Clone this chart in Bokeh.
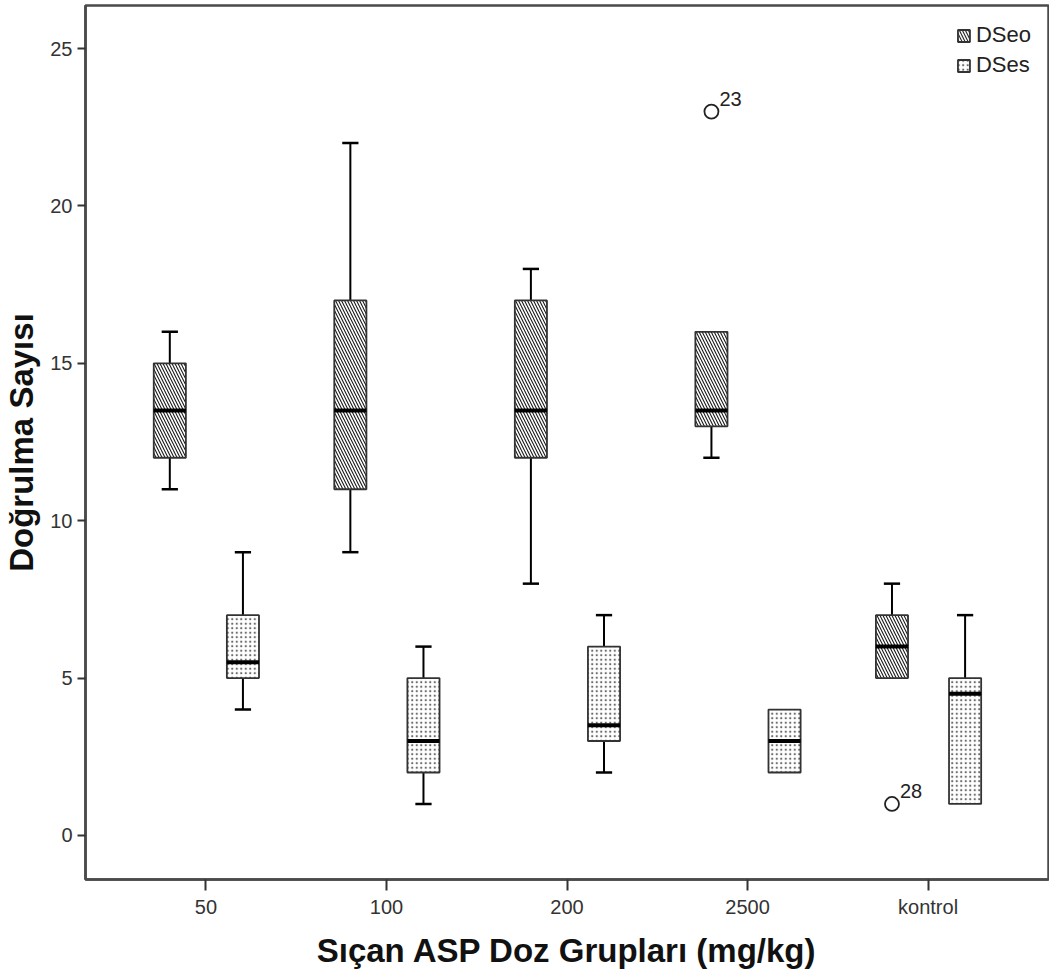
from bokeh.plotting import figure
from bokeh.models import Range1d, FixedTicker, Legend, LegendItem, ColumnDataSource
from bokeh.embed import file_html
from bokeh.resources import INLINE
from bokeh.core.properties import value

# ---- data ----
groups = ["50", "100", "200", "2500", "kontrol"]

dseo_low = [11, 9, 8, 12, 5]
dseo_q1 = [12, 11, 12, 13, 5]
dseo_med = [13.5, 13.5, 13.5, 13.5, 6]
dseo_q3 = [15, 17, 17, 16, 7]
dseo_high = [16, 22, 18, 16, 8]

dses_low = [4, 1, 2, 2, 1]
dses_q1 = [5, 2, 3, 2, 1]
dses_med = [5.5, 3, 3.5, 3, 4.5]
dses_q3 = [7, 5, 6, 4, 5]
dses_high = [9, 6, 7, 4, 7]

outlier_group = ["2500", "kontrol"]
outlier_series = ["DSeo", "DSeo"]
outlier_value = [23, 1]
outlier_case = ["23", "28"]

y_ticks = [0, 5, 10, 15, 20, 25]

# ---- layout constants ----
FONT = "Liberation Sans"
OFFSET = {"DSeo": -0.2, "DSes": 0.205}
BOX_W = 0.178
CAP_W = 0.09

pos = {g: i + 1 for i, g in enumerate(groups)}

p = figure(width=1049, height=977, output_backend="svg", toolbar_location=None,
           x_range=Range1d(1 - 0.667, 5 + 0.667), y_range=Range1d(-1.40, 26.37),
           min_border_left=83, min_border_right=1, min_border_top=5, min_border_bottom=98)
p.grid.visible = False
p.background_fill_color = "white"
p.border_fill_color = "white"
p.outline_line_color = "#4a4a4a"
p.outline_line_width = 2.5

styles = {
    "DSeo": dict(hatch_pattern="\\", hatch_scale=6, hatch_weight=1.1, hatch_color="#1a1a1a"),
    "DSes": dict(hatch_pattern=".", hatch_scale=4.5, hatch_weight=1, hatch_color="#6a6a6a"),
}

renderers = {}
for name, low, q1, med, q3, high in [
    ("DSeo", dseo_low, dseo_q1, dseo_med, dseo_q3, dseo_high),
    ("DSes", dses_low, dses_q1, dses_med, dses_q3, dses_high),
]:
    xc = [pos[g] + OFFSET[name] for g in groups]
    src = ColumnDataSource(dict(
        x=xc, left=[x - BOX_W / 2 for x in xc], right=[x + BOX_W / 2 for x in xc],
        cl=[x - CAP_W / 2 for x in xc], cr=[x + CAP_W / 2 for x in xc],
        low=low, q1=q1, med=med, q3=q3, high=high))
    # whiskers
    p.segment(x0="x", y0="q3", x1="x", y1="high", source=src, line_color="black", line_width=2)
    p.segment(x0="x", y0="low", x1="x", y1="q1", source=src, line_color="black", line_width=2)
    # caps (only where a whisker exists)
    top_idx = [i for i in range(len(groups)) if high[i] > q3[i]]
    bot_idx = [i for i in range(len(groups)) if low[i] < q1[i]]
    p.segment(x0=[src.data["cl"][i] for i in top_idx], x1=[src.data["cr"][i] for i in top_idx],
              y0=[high[i] for i in top_idx], y1=[high[i] for i in top_idx],
              line_color="black", line_width=2.5)
    p.segment(x0=[src.data["cl"][i] for i in bot_idx], x1=[src.data["cr"][i] for i in bot_idx],
              y0=[low[i] for i in bot_idx], y1=[low[i] for i in bot_idx],
              line_color="black", line_width=2.5)
    # boxes
    r = p.quad(left="left", right="right", bottom="q1", top="q3", source=src,
               fill_color="white", line_color="#333333", line_width=1.8, **styles[name])
    renderers[name] = r
    # medians
    p.segment(x0="left", x1="right", y0="med", y1="med", source=src, line_color="black", line_width=4)

# outliers
ox = [pos[g] + OFFSET[s] for g, s in zip(outlier_group, outlier_series)]
osrc = ColumnDataSource(dict(x=ox, y=outlier_value, t=outlier_case))
p.scatter(x="x", y="y", source=osrc, marker="circle", size=14, fill_color="white",
          line_color="#222222", line_width=1.8)
p.text(x="x", y="y", text="t", source=osrc, x_offset=8, y_offset=-13,
       text_baseline="alphabetic", text_align="left", text_font=value(FONT),
       text_font_size="20px", text_color="#222222")

# axes
p.xaxis.ticker = FixedTicker(ticks=[pos[g] for g in groups])
p.xaxis.major_label_overrides = {pos[g]: g for g in groups}
p.yaxis.ticker = FixedTicker(ticks=y_ticks)
for ax in (p.xaxis[0], p.yaxis[0]):
    ax.axis_line_color = "#4a4a4a"
    ax.axis_line_width = 2.5
    ax.major_tick_line_color = "#333333"
    ax.major_tick_line_width = 2
    ax.major_tick_in = 0
    ax.minor_tick_line_color = None
    ax.major_label_text_font = FONT
    ax.major_label_text_font_size = "20px"
    ax.major_label_text_color = "#333333"
    ax.axis_label_text_font = FONT
    ax.axis_label_text_font_style = "bold"
    ax.axis_label_text_font_size = "33px"
    ax.axis_label_text_color = "#111111"
p.xaxis.major_tick_out = 11
p.yaxis.major_tick_out = 8
p.xaxis.major_label_standoff = 5
p.yaxis.major_label_standoff = 5
p.xaxis.axis_label = "Sıçan ASP Doz Grupları (mg/kg)"
p.yaxis.axis_label = "Doğrulma Sayısı"
p.xaxis.axis_label_standoff = 11
p.yaxis.axis_label_standoff = 7

legend = Legend(items=[LegendItem(label="DSeo", renderers=[renderers["DSeo"]]),
                       LegendItem(label="DSes", renderers=[renderers["DSes"]])],
                location="top_right", background_fill_alpha=0, border_line_color=None,
                label_text_font=FONT, label_text_font_size="22px", label_text_color="#222222",
                glyph_width=15, glyph_height=15, label_standoff=5, spacing=4,
                label_height=25, margin=17, padding=9)
p.add_layout(legend)

open("out.html", "w").write(file_html(p, INLINE))
